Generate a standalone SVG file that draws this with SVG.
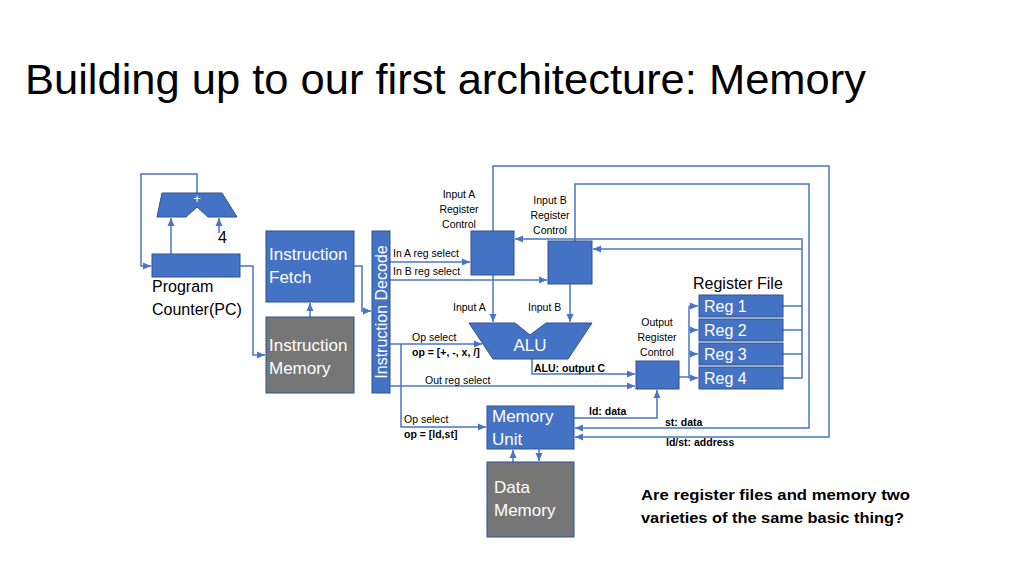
<svg xmlns="http://www.w3.org/2000/svg" width="1024" height="576" viewBox="0 0 1024 576">
<style>
.blk{fill:#4472C4;stroke:#2F528F;stroke-width:1}
.gry{fill:#767676;stroke:#2F528F;stroke-width:1}
.w{fill:#ffffff;font-family:"Liberation Sans",Arial,sans-serif}
.t{fill:#000;font-family:"Liberation Sans",Arial,sans-serif}
.s{font-size:10.5px}
.b{font-weight:bold}
.c line,.c path{fill:none;stroke:#4A74C8;stroke-width:1.5}
</style>
<defs>
<marker id="ar" markerUnits="userSpaceOnUse" markerWidth="8" markerHeight="8" viewBox="0 0 8 8" refX="8" refY="4" orient="auto">
<path d="M0,0.5 L8,4 L0,7.5 Z" fill="#4A74C8"/>
</marker>
</defs>
<rect width="1024" height="576" fill="#ffffff"/>
<text x="25" y="94" class="t" font-size="42" textLength="841" lengthAdjust="spacingAndGlyphs">Building up to our first architecture: Memory</text>

<g id="connectors" class="c">
<path d="M197,193 V174 H141 V266 H151" marker-end="url(#ar)"/>
<path d="M171,254 V218" marker-end="url(#ar)"/>
<path d="M219,233 V218" marker-end="url(#ar)"/>
<path d="M240,266 H253 V355 H265" marker-end="url(#ar)"/>
<path d="M310,317 V303" marker-end="url(#ar)"/>
<path d="M354,266 H362 V311 H371" marker-end="url(#ar)"/>
<path d="M390,262 H470" marker-end="url(#ar)"/>
<path d="M390,280 H547" marker-end="url(#ar)"/>
<path d="M390,344 H482" marker-end="url(#ar)"/>
<path d="M401,344 V427 H486" marker-end="url(#ar)"/>
<path d="M390,386 H635" marker-end="url(#ar)"/>
<path d="M493,275 V322" marker-end="url(#ar)"/>
<path d="M570,284 V322" marker-end="url(#ar)"/>
<path d="M532,359 V374 H635" marker-end="url(#ar)"/>
<path d="M679,377 H689"/>
<path d="M689,306 V378"/>
<path d="M689,306 H698" marker-end="url(#ar)"/>
<path d="M689,330 H698" marker-end="url(#ar)"/>
<path d="M689,354 H698" marker-end="url(#ar)"/>
<path d="M689,378 H698" marker-end="url(#ar)"/>
<path d="M783,306 H802"/>
<path d="M783,330 H802"/>
<path d="M783,354 H802"/>
<path d="M783,378 H802 V239 H515" marker-end="url(#ar)"/>
<path d="M802,249 H593" marker-end="url(#ar)"/>
<path d="M493,231 V166 H829 V437 H575" marker-end="url(#ar)"/>
<path d="M575,241 V184 H809 V428 H575" marker-end="url(#ar)"/>
<path d="M574,418 H657 V390" marker-end="url(#ar)"/>
<path d="M513,462 V450" marker-end="url(#ar)"/>
<path d="M539,449 V461" marker-end="url(#ar)"/>
</g>

<g id="adder">
<path class="blk" d="M162,193 H222 L237,217 H208 L197,207 L186,217 H157 Z"/>
<text x="197" y="203" class="w" font-size="13" text-anchor="middle">+</text>
<text x="218" y="243" class="t" font-size="16">4</text>
</g>

<g id="pc">
<rect class="blk" x="152" y="254" width="88" height="23"/>
<text x="152" y="292" class="t" font-size="16">Program</text>
<text x="152" y="315" class="t" font-size="16">Counter(PC)</text>
</g>

<g id="ifetch">
<rect class="blk" x="266" y="231" width="88" height="71"/>
<text x="269" y="260" class="w" font-size="17">Instruction</text>
<text x="269" y="283" class="w" font-size="17">Fetch</text>
</g>

<g id="imem">
<rect class="gry" x="266" y="317" width="88" height="76"/>
<text x="269" y="351" class="w" font-size="17">Instruction</text>
<text x="269" y="374" class="w" font-size="17">Memory</text>
</g>

<g id="idecode">
<rect class="blk" x="372" y="231" width="18" height="162"/>
<text transform="translate(387,312) rotate(-90)" class="w" font-size="16" text-anchor="middle">Instruction Decode</text>
</g>

<g id="labels-decode">
<text x="393" y="257" class="t s">In A reg select</text>
<text x="393" y="275" class="t s">In B reg select</text>
<text x="412" y="341" class="t s">Op select</text>
<text x="412" y="356" class="t s b">op = [+, -, x, /]</text>
<text x="425" y="384" class="t s">Out reg select</text>
</g>

<g id="inA">
<rect class="blk" x="471" y="231" width="43" height="44"/>
<text x="459" y="198" class="t s" text-anchor="middle">Input A</text>
<text x="459" y="213" class="t s" text-anchor="middle">Register</text>
<text x="459" y="228" class="t s" text-anchor="middle">Control</text>
<text x="453" y="311" class="t s">Input A</text>
</g>

<g id="inB">
<rect class="blk" x="548" y="241" width="44" height="43"/>
<text x="550" y="204" class="t s" text-anchor="middle">Input B</text>
<text x="550" y="219" class="t s" text-anchor="middle">Register</text>
<text x="550" y="234" class="t s" text-anchor="middle">Control</text>
<text x="528" y="311" class="t s">Input B</text>
</g>

<g id="alu">
<path class="blk" d="M469,323 H515 L530,335 L546,323 H592 L568,359 H493 Z"/>
<text x="530" y="351" class="w" font-size="17" text-anchor="middle">ALU</text>
<text x="534" y="372" class="t s b">ALU: output C</text>
</g>

<g id="outctrl">
<rect class="blk" x="636" y="361" width="43" height="28"/>
<text x="657" y="326" class="t s" text-anchor="middle">Output</text>
<text x="657" y="341" class="t s" text-anchor="middle">Register</text>
<text x="657" y="356" class="t s" text-anchor="middle">Control</text>
</g>

<g id="regfile">
<text x="693" y="289" class="t" font-size="16">Register File</text>
<rect class="blk" x="699" y="295" width="84" height="22"/>
<rect class="blk" x="699" y="319" width="84" height="22"/>
<rect class="blk" x="699" y="343" width="84" height="22"/>
<rect class="blk" x="699" y="367" width="84" height="22"/>
<text x="704" y="312" class="w" font-size="16">Reg 1</text>
<text x="704" y="336" class="w" font-size="16">Reg 2</text>
<text x="704" y="360" class="w" font-size="16">Reg 3</text>
<text x="704" y="384" class="w" font-size="16">Reg 4</text>
</g>

<g id="memunit">
<rect class="blk" x="487" y="406" width="87" height="43"/>
<text x="492" y="422" class="w" font-size="17">Memory</text>
<text x="492" y="445" class="w" font-size="17">Unit</text>
<text x="404" y="423" class="t s">Op select</text>
<text x="404" y="438" class="t s b">op = [ld,st]</text>
<text x="589" y="415" class="t s b">ld: data</text>
<text x="665" y="426" class="t s b">st: data</text>
<text x="666" y="446" class="t s b">ld/st: address</text>
</g>

<g id="datamem">
<rect class="gry" x="487" y="462" width="87" height="75"/>
<text x="494" y="493" class="w" font-size="17">Data</text>
<text x="494" y="516" class="w" font-size="17">Memory</text>
</g>

<g id="question">
<text x="641" y="500" class="t b" font-size="15" textLength="269" lengthAdjust="spacingAndGlyphs">Are register files and memory two</text>
<text x="641" y="523" class="t b" font-size="15" textLength="263" lengthAdjust="spacingAndGlyphs">varieties of the same basic thing?</text>
</g>
</svg>
